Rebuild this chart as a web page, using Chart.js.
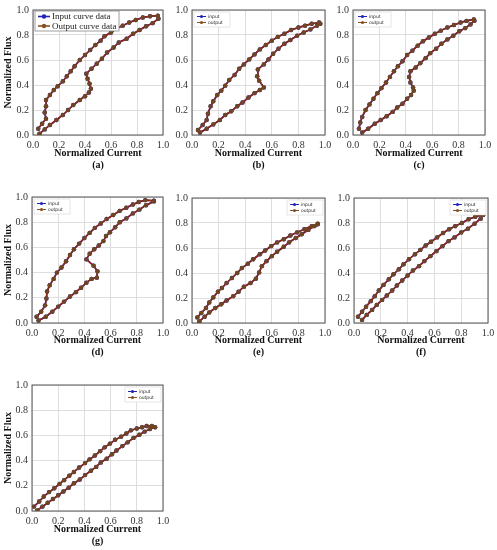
<!DOCTYPE html>
<html>
<head>
<meta charset="utf-8">
<script src="https://cdn.jsdelivr.net/npm/chart.js@4.4.1/dist/chart.umd.min.js"></script>
<style>
  body { margin: 0; background: #fff; width: 497px; height: 550px; position: relative; overflow: hidden; }
  canvas { position: absolute; }
</style>
</head>
<body>
<script>
// loops: lower branch going up, then upper branch coming back down
const aX = [0.05,0.09,0.13,0.18,0.23,0.27,0.31,0.36,0.40,0.43,0.445,0.435,0.42,0.41,0.45,0.49,0.53,0.57,0.62,0.66,0.72,0.77,0.82,0.87,0.92,0.965,
            0.96,0.90,0.845,0.79,0.74,0.69,0.64,0.60,0.55,0.52,0.48,0.44,0.40,0.36,0.32,0.29,0.26,0.23,0.19,0.16,0.13,0.10,0.10,0.09,0.10,0.07,0.04];
const aY = [0.01,0.045,0.08,0.12,0.16,0.20,0.24,0.28,0.31,0.34,0.37,0.41,0.45,0.49,0.53,0.57,0.61,0.66,0.70,0.74,0.77,0.81,0.84,0.87,0.895,0.93,
            0.955,0.95,0.94,0.92,0.90,0.875,0.85,0.82,0.79,0.755,0.72,0.68,0.64,0.60,0.55,0.51,0.47,0.43,0.39,0.36,0.32,0.28,0.23,0.18,0.13,0.09,0.05];

const bX = [0.06,0.11,0.16,0.21,0.25,0.295,0.34,0.38,0.425,0.47,0.51,0.54,0.505,0.49,0.495,0.54,0.575,0.61,0.65,0.695,0.74,0.79,0.84,0.89,0.94,0.965,
            0.955,0.90,0.85,0.80,0.745,0.695,0.645,0.60,0.555,0.51,0.47,0.43,0.39,0.355,0.32,0.28,0.25,0.22,0.19,0.16,0.14,0.12,0.11,0.08,0.045];
const bY = [0.02,0.05,0.085,0.12,0.16,0.19,0.23,0.26,0.30,0.335,0.36,0.38,0.435,0.47,0.525,0.565,0.605,0.65,0.69,0.73,0.76,0.795,0.82,0.845,0.875,0.89,
            0.90,0.89,0.875,0.86,0.84,0.81,0.785,0.755,0.72,0.685,0.645,0.605,0.565,0.53,0.48,0.44,0.395,0.355,0.32,0.27,0.23,0.17,0.12,0.08,0.04];

const cX = [0.07,0.115,0.165,0.21,0.255,0.30,0.335,0.375,0.41,0.44,0.46,0.455,0.435,0.425,0.435,0.475,0.51,0.55,0.585,0.63,0.67,0.715,0.76,0.805,0.85,0.89,0.92,
            0.915,0.86,0.815,0.765,0.715,0.665,0.62,0.575,0.53,0.49,0.45,0.41,0.375,0.34,0.31,0.28,0.25,0.215,0.185,0.155,0.125,0.095,0.07,0.055,0.045];
const cY = [0.02,0.05,0.09,0.12,0.15,0.185,0.22,0.25,0.29,0.32,0.355,0.38,0.42,0.465,0.51,0.54,0.575,0.615,0.655,0.69,0.73,0.765,0.795,0.83,0.855,0.885,0.915,
            0.925,0.913,0.90,0.88,0.86,0.835,0.81,0.78,0.75,0.715,0.675,0.64,0.59,0.55,0.51,0.465,0.42,0.375,0.335,0.29,0.245,0.20,0.145,0.10,0.05];

const dX = [0.05,0.105,0.155,0.20,0.245,0.29,0.335,0.375,0.415,0.455,0.495,0.50,0.47,0.415,0.44,0.475,0.51,0.545,0.565,0.595,0.635,0.67,0.72,0.77,0.82,0.87,0.93,
            0.93,0.865,0.815,0.77,0.72,0.67,0.62,0.57,0.525,0.48,0.44,0.40,0.36,0.32,0.29,0.26,0.225,0.19,0.165,0.135,0.115,0.11,0.10,0.07,0.035];
const dY = [0.02,0.05,0.09,0.13,0.17,0.21,0.245,0.28,0.32,0.35,0.36,0.41,0.455,0.505,0.55,0.585,0.615,0.65,0.69,0.72,0.76,0.80,0.83,0.87,0.90,0.935,0.965,
            0.97,0.975,0.96,0.94,0.915,0.89,0.857,0.825,0.79,0.755,0.715,0.675,0.63,0.585,0.54,0.49,0.44,0.40,0.35,0.30,0.25,0.195,0.14,0.09,0.05];

const eX = [0.055,0.095,0.13,0.175,0.22,0.26,0.31,0.35,0.39,0.44,0.48,0.505,0.525,0.56,0.60,0.64,0.69,0.73,0.78,0.825,0.875,0.92,0.945,
            0.945,0.90,0.845,0.79,0.74,0.69,0.64,0.595,0.55,0.51,0.46,0.42,0.375,0.34,0.30,0.26,0.225,0.195,0.16,0.13,0.105,0.07,0.04];
const eY = [0.013,0.05,0.085,0.12,0.15,0.18,0.215,0.25,0.29,0.32,0.355,0.405,0.455,0.495,0.535,0.57,0.61,0.645,0.68,0.71,0.745,0.775,0.795,
            0.79,0.775,0.75,0.725,0.70,0.67,0.645,0.615,0.58,0.55,0.51,0.475,0.44,0.40,0.36,0.32,0.28,0.25,0.205,0.165,0.12,0.08,0.045];

const fX = [0.06,0.095,0.135,0.17,0.21,0.245,0.285,0.32,0.36,0.40,0.44,0.485,0.525,0.57,0.615,0.66,0.705,0.75,0.80,0.85,0.90,0.945,0.965,
            0.96,0.905,0.855,0.805,0.755,0.71,0.665,0.62,0.575,0.535,0.495,0.455,0.41,0.37,0.335,0.295,0.26,0.22,0.185,0.155,0.125,0.09,0.06,0.03];
const fY = [0.025,0.065,0.105,0.145,0.185,0.22,0.26,0.30,0.34,0.38,0.42,0.455,0.495,0.535,0.575,0.615,0.655,0.685,0.725,0.755,0.795,0.835,0.865,
            0.865,0.85,0.83,0.80,0.775,0.75,0.72,0.685,0.65,0.62,0.585,0.55,0.51,0.47,0.43,0.39,0.35,0.305,0.26,0.215,0.175,0.13,0.09,0.05];

const gX = [0.04,0.08,0.12,0.16,0.20,0.24,0.28,0.32,0.365,0.405,0.45,0.49,0.525,0.57,0.61,0.645,0.69,0.73,0.775,0.82,0.86,0.90,0.94,
            0.915,0.875,0.84,0.80,0.755,0.72,0.68,0.635,0.595,0.555,0.52,0.48,0.44,0.405,0.36,0.32,0.285,0.245,0.21,0.17,0.13,0.09,0.055,0.015];
const gY = [0.005,0.035,0.065,0.095,0.125,0.155,0.185,0.22,0.25,0.285,0.32,0.35,0.385,0.415,0.45,0.48,0.515,0.545,0.58,0.605,0.63,0.65,0.665,
            0.675,0.675,0.665,0.655,0.64,0.615,0.59,0.565,0.535,0.505,0.475,0.44,0.41,0.38,0.345,0.31,0.28,0.245,0.215,0.18,0.15,0.115,0.075,0.035];

const ticks = [0, 0.2, 0.4, 0.6, 0.8, 1.0];
const xTitle = 'Normalized Current';
const yTitle = 'Normalized Flux';

const SERIF = "'Liberation Serif', 'DejaVu Serif', serif";
const inColor = '#2323b8';
const outLine = '#951f1a';
const outDot = '#6e4622';

// plot box of each panel on the page (L, R, T, B) and where its letter sits
const panels = [
  { tag: '(a)', xs: aX, ys: aY, L: 33,  R: 163, T: 8,   B: 135, bottom: 173, yt: true,  legend: 'big' },
  { tag: '(b)', xs: bX, ys: bY, L: 192, R: 325, T: 8,   B: 135, bottom: 173, yt: false, legend: 'tl' },
  { tag: '(c)', xs: cX, ys: cY, L: 353, R: 485, T: 8,   B: 135, bottom: 173, yt: false, legend: 'tl' },
  { tag: '(d)', xs: dX, ys: dY, L: 32,  R: 163, T: 195, B: 323, bottom: 360, yt: true,  legend: 'tl' },
  { tag: '(e)', xs: eX, ys: eY, L: 192, R: 325, T: 196, B: 323, bottom: 360, yt: false, legend: 'tr' },
  { tag: '(f)', xs: fX, ys: fY, L: 354, R: 488, T: 196, B: 323, bottom: 360, yt: false, legend: 'tr' },
  { tag: '(g)', xs: gX, ys: gY, L: 32,  R: 163, T: 383, B: 511, bottom: 549, yt: true,  legend: 'tr' }
];

const frame = {
  id: 'frame',
  beforeDatasetsDraw(chart) {
    const { ctx, chartArea: a } = chart;
    ctx.save();
    ctx.strokeStyle = '#555';
    ctx.lineWidth = 1;
    ctx.strokeRect(a.left, a.top, a.right - a.left, a.bottom - a.top);
    ctx.restore();
  }
};

const legendBox = {
  id: 'legendBox',
  afterDraw(chart, args, opts) {
    const { ctx, chartArea: a } = chart;
    const big = opts.kind === 'big';
    const w = big ? 84 : 36, h = big ? 20 : 15;
    const x = opts.kind === 'tr' ? a.right - w - 2 : a.left + 2;
    const y = a.top + (big ? 1 : 2);
    ctx.save();
    ctx.fillStyle = '#fff';
    ctx.strokeStyle = big ? '#888' : '#ccc';
    ctx.lineWidth = big ? 0.8 : 0.5;
    ctx.fillRect(x, y, w, h);
    ctx.strokeRect(x, y, w, h);
    const names = opts.labels;
    const colors = [inColor, '#8a5020'];
    names.forEach((name, i) => {
      const cy = y + (big ? 5.5 + i * 9.5 : 4.5 + i * 6);
      const sl = big ? 12 : 9;
      const sx = x + 3;
      ctx.strokeStyle = colors[i];
      ctx.lineWidth = big ? 1.6 : 1;
      ctx.beginPath();
      ctx.moveTo(sx, cy);
      ctx.lineTo(sx + sl, cy);
      ctx.stroke();
      ctx.fillStyle = colors[i];
      ctx.beginPath();
      ctx.arc(sx + sl / 2, cy, big ? 2.2 : 1.6, 0, Math.PI * 2);
      ctx.fill();
      ctx.fillStyle = '#222';
      ctx.textBaseline = 'middle';
      ctx.font = big ? '9px ' + SERIF : "4.5px 'DejaVu Sans', sans-serif";
      ctx.fillText(name, sx + sl + 2, cy + 0.5);
    });
    ctx.restore();
  }
};

panels.forEach(p => {
  const left = p.yt ? 0 : p.L - 30;
  const top = p.T - 8;
  const right = p.R + 12;
  const canvas = document.createElement('canvas');
  canvas.width = right - left;
  canvas.height = p.bottom - top;
  canvas.style.left = left + 'px';
  canvas.style.top = top + 'px';
  canvas.style.width = canvas.width + 'px';
  canvas.style.height = canvas.height + 'px';
  document.body.appendChild(canvas);

  const pts = p.xs.map((x, i) => ({ x: x, y: p.ys[i] }));
  const labels = p.legend === 'big' ? ['Input curve data', 'Output curve data'] : ['input', 'output'];

  const axis = (titleText, pad, fitFn) => ({
    type: 'linear',
    min: 0,
    max: 1,
    afterBuildTicks: s => { s.ticks = ticks.map(v => ({ value: v })); },
    ticks: {
      callback: v => v.toFixed(1),
      font: { family: SERIF, size: 10 },
      color: '#333',
      padding: pad
    },
    grid: { color: '#d6d6d6', lineWidth: 0.8, drawTicks: false },
    border: { display: false },
    title: {
      display: titleText !== null,
      text: titleText,
      font: { family: SERIF, size: 10, weight: 'bold' },
      color: '#111',
      padding: { top: 2, bottom: 2 }
    },
    afterFit: fitFn
  });

  new Chart(canvas, {
    type: 'scatter',
    data: {
      datasets: [{
        label: labels[0],
        data: pts,
        showLine: true,
        borderColor: inColor,
        backgroundColor: inColor,
        borderWidth: 1.6,
        pointRadius: 2.2,
        pointBorderWidth: 0,
        order: 2
      }, {
        label: labels[1],
        data: pts,
        showLine: true,
        borderColor: outLine,
        backgroundColor: outDot,
        borderWidth: 1.6,
        pointRadius: 2.2,
        pointBorderWidth: 0,
        order: 1
      }]
    },
    options: {
      responsive: false,
      animation: false,
      devicePixelRatio: 1,
      layout: { padding: { left: 0, top: 8, right: 12, bottom: 0 } },
      plugins: {
        legend: { display: false },
        tooltip: { enabled: false },
        legendBox: { kind: p.legend, labels: labels }
      },
      scales: {
        x: axis([xTitle, p.tag], 4, s => { s.height = p.bottom - p.B; }),
        y: axis(p.yt ? yTitle : null, 4, s => { s.width = p.L - left; })
      }
    },
    plugins: [frame, legendBox]
  });
});
</script>
</body>
</html>
